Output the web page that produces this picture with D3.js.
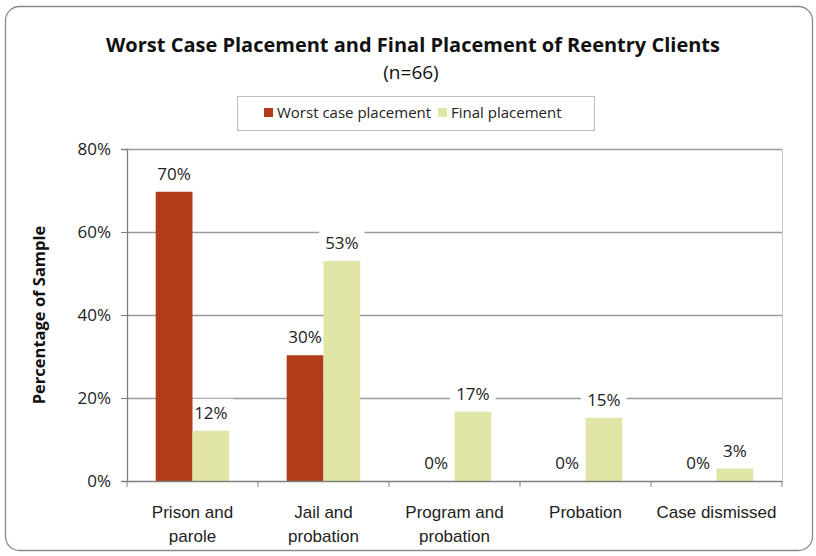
<!DOCTYPE html>
<html>
<head>
<meta charset="utf-8">
<script src="https://cdn.jsdelivr.net/npm/d3@7"></script>
<style>
  body { margin: 0; background: #fff; }
  svg { display: block; font-family: "Open Sans", "Noto Sans", sans-serif; }
</style>
</head>
<body>
<svg width="816" height="556"></svg>
<script>
let width = 816;
let height = 556;
let margin = { top: 149, right: 34, bottom: 75, left: 127 };

let categories = [["Prison and", "parole"], ["Jail and", "probation"], ["Program and", "probation"], ["Probation"], ["Case dismissed"]];
let seriesNames = ["Worst case placement", "Final placement"];
let worstCase = [69.7, 30.3, 0, 0, 0];
let finalPlacement = [12.1, 53.0, 16.7, 15.2, 3.0];
let yTicks = [0, 20, 40, 60, 80];
let colors = ["#B23C19", "#E1E5A6"];

let svg = d3.select("svg")

// outer chart frame
svg.append("rect")
    .attr("x", 5.5).attr("y", 6.5)
    .attr("width", 807).attr("height", 544)
    .attr("rx", 14)
    .style("fill", "white")
    .style("stroke", "#8a8a8a")
    .style("stroke-width", 1.3)

let data = categories.map((c, i) => ({
    key: i,
    label: c,
    bars: [worstCase[i], finalPlacement[i]].map((v, s) => ({ v, s }))
}))

let x = d3.scaleBand()
    .domain(data.map(d => d.key))
    .range([margin.left, width - margin.right])

let x1 = d3.scaleBand()
    .domain([0, 1])
    .range([0, x.bandwidth()])
    .paddingOuter(0.78)

let y = d3.scaleLinear()
    .domain([0, 80])
    .range([height - margin.bottom, margin.top])

// gridlines
svg.append("g")
    .selectAll("line")
    .data(yTicks.slice(1))
    .join("line")
    .attr("x1", margin.left)
    .attr("x2", width - margin.right)
    .attr("y1", d => Math.round(y(d)) + 0.5)
    .attr("y2", d => Math.round(y(d)) + 0.5)
    .style("stroke", "#9a9a9a")
    .style("stroke-width", 1.3)

// right border of plot area
svg.append("line")
    .attr("x1", width - margin.right + 0.5).attr("x2", width - margin.right + 0.5)
    .attr("y1", margin.top).attr("y2", height - margin.bottom)
    .style("stroke", "#c8c8c8")

let groups = svg.append("g")
    .selectAll("g")
    .data(data)
    .join("g")
    .attr("transform", d => `translate(${x(d.key)},0)`)

// white label boxes go under the bars so they only break the gridlines
let boxes = groups.selectAll("rect.box")
    .data(d => d.bars)
    .join("rect")
    .attr("class", "box")
    .style("fill", "white")

// bars
groups.selectAll("rect.bar")
    .data(d => d.bars)
    .join("rect")
    .attr("class", "bar")
    .attr("x", d => x1(d.s))
    .attr("width", x1.bandwidth())
    .attr("y", d => y(d.v))
    .attr("height", d => y(0) - y(d.v))
    .style("fill", d => colors[d.s])

let labels = groups.selectAll("text.val")
    .data(d => d.bars)
    .join("text")
    .attr("class", "val")
    .attr("x", d => x1(d.s) + x1.bandwidth() / 2)
    .attr("y", d => y(d.v) - 12)
    .attr("text-anchor", "middle")
    .style("font-size", "17px")
    .style("fill", "#222")
    .text(d => Math.round(d.v) + "%")

labels.each(function (d) { d.box = this.getBBox() })
boxes
    .attr("x", d => d.box.x - 6)
    .attr("y", d => d.box.y - 2)
    .attr("width", d => d.box.width + 12)
    .attr("height", d => d.box.height + 4)

// axes
let yAxis = svg.append("g")
    .attr("transform", `translate(${margin.left},0)`)
    .call(d3.axisLeft(y).tickValues(yTicks).tickFormat(d => d + "%").tickSize(6).tickPadding(10))
yAxis.select(".domain").style("stroke", "#7f7f7f").style("stroke-width", 1.3)
yAxis.selectAll(".tick line").style("stroke", "#7f7f7f")
yAxis.selectAll(".tick text").style("font-size", "17px").style("fill", "#222").style("font-family", "Open Sans")

let xAxis = svg.append("g")
    .attr("transform", `translate(0,${height - margin.bottom})`)
    .call(d3.axisBottom(x).tickSize(0).tickFormat(""))
xAxis.select(".domain").style("stroke", "#7f7f7f").style("stroke-width", 1.3)

// category boundary ticks
xAxis.append("g")
    .selectAll("line")
    .data(d3.range(data.length + 1))
    .join("line")
    .attr("x1", i => i < data.length ? x(i) : x(data.length - 1) + x.bandwidth())
    .attr("x2", i => i < data.length ? x(i) : x(data.length - 1) + x.bandwidth())
    .attr("y1", 0).attr("y2", 6)
    .style("stroke", "#7f7f7f")

xAxis.append("g")
    .selectAll("text")
    .data(data)
    .join("text")
    .attr("x", d => x(d.key) + x.bandwidth() / 2)
    .attr("y", 37)
    .attr("text-anchor", "middle")
    .style("font-size", "17px")
    .style("fill", "#222")
    .selectAll("tspan")
    .data(d => d.label)
    .join("tspan")
    .attr("x", function () { return this.parentNode.getAttribute("x") })
    .attr("dy", (d, i) => i == 0 ? 0 : 24)
    .text(d => d)

// y axis title
svg.append("text")
    .attr("transform", `translate(45,${(margin.top + height - margin.bottom) / 2}) rotate(-90)`)
    .attr("text-anchor", "middle")
    .style("font-size", "16.5px")
    .style("font-weight", "bold")
    .style("fill", "#111")
    .text("Percentage of Sample")

// title
svg.append("text")
    .attr("x", 413).attr("y", 52)
    .attr("text-anchor", "middle")
    .attr("textLength", 614)
    .attr("lengthAdjust", "spacingAndGlyphs")
    .style("font-size", "19px")
    .style("font-weight", "bold")
    .style("fill", "#111")
    .text("Worst Case Placement and Final Placement of Reentry Clients")

svg.append("text")
    .attr("x", 411).attr("y", 79)
    .attr("text-anchor", "middle")
    .style("font-size", "19px")
    .style("fill", "#111")
    .text("(n=66)")

// legend
let legend = svg.append("g")
legend.append("rect")
    .attr("x", 237.5).attr("y", 96.5)
    .attr("width", 357).attr("height", 34)
    .style("fill", "white")
    .style("stroke", "#bdbdbd")

let legendX = [264, 438]
let legendItems = legend.selectAll("g")
    .data(seriesNames)
    .join("g")
    .attr("transform", (d, i) => `translate(${legendX[i]},108)`)

legendItems.append("rect")
    .attr("width", 9).attr("height", 9)
    .style("fill", (d, i) => colors[i])

legendItems.append("text")
    .attr("x", 13).attr("y", 10)
    .style("font-size", "15px")
    .style("fill", "#222")
    .text(d => d)
</script>
</body>
</html>
